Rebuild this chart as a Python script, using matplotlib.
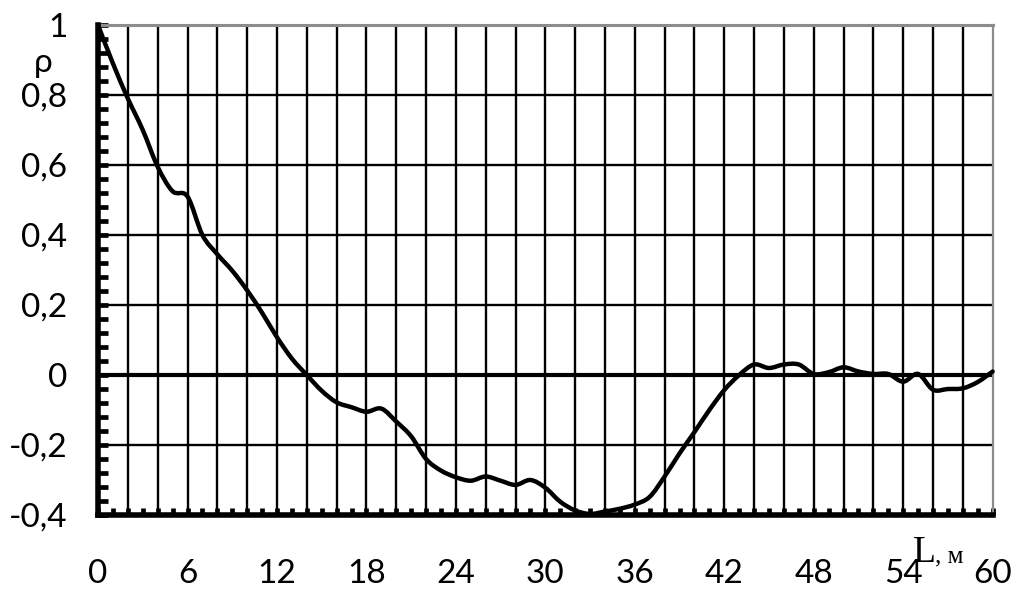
import numpy as np
import matplotlib
matplotlib.use("Agg")
import matplotlib.pyplot as plt
from matplotlib.ticker import MultipleLocator, FuncFormatter
from matplotlib.path import Path
from matplotlib.patches import PathPatch

# lag L, m and autocorrelation rho
lag = [0, 1, 2, 3, 4, 5, 6, 7, 8, 9, 10, 11, 12, 13, 14, 15, 16, 17, 18, 19,
       20, 21, 22, 23, 24, 25, 26, 27, 28, 29, 30, 31, 32, 33, 34, 35, 36, 37,
       38, 39, 40, 41, 42, 43, 44, 45, 46, 47, 48, 49, 50, 51, 52, 53, 54, 55,
       56, 57, 58, 59, 60]
rho = [1.0, 0.89, 0.79, 0.70, 0.595, 0.525, 0.51, 0.40, 0.345, 0.298, 0.242,
       0.178, 0.108, 0.047, 0.0, -0.045, -0.078, -0.092, -0.105, -0.096,
       -0.133, -0.175, -0.24, -0.273, -0.292, -0.302, -0.29, -0.302, -0.314,
       -0.30, -0.322, -0.362, -0.387, -0.397, -0.39, -0.382, -0.37, -0.348,
       -0.29, -0.224, -0.163, -0.10, -0.043, 0.0, 0.03, 0.02, 0.03, 0.03,
       0.003, 0.008, 0.022, 0.01, 0.003, 0.003, -0.019, 0.003, -0.042, -0.04,
       -0.038, -0.02, 0.01]

x_labels = [0, 6, 12, 18, 24, 30, 36, 42, 48, 54, 60]
y_labels = [-0.4, -0.2, 0, 0.2, 0.4, 0.6, 0.8, 1]

plt.rcParams['font.family'] = ['Lato', 'DejaVu Sans']

fig = plt.figure(figsize=(10.16, 5.9), dpi=100)
ax = fig.add_axes([0.0965, 0.1271, 0.8805, 0.8305])

ax.set_xlim(0, 60)
ax.set_ylim(-0.4, 1)

# grid
for xv in np.arange(2, 60, 2):
    ax.axvline(xv, color='black', lw=1.7, zorder=1)
for yv in y_labels[1:-1]:
    ax.axhline(yv, color='black', lw=3.0 if yv == 0 else 1.7, zorder=1)

# smoothed line like the spreadsheet one (bezier through the points)
px = np.array(lag, dtype=float)
py = np.array(rho, dtype=float)
verts = [(px[0], py[0])]
codes = [Path.MOVETO]
n = len(px)
for i in range(n - 1):
    i0 = max(i - 1, 0)
    i3 = min(i + 2, n - 1)
    c1 = (px[i] + (px[i + 1] - px[i0]) / 6, py[i] + (py[i + 1] - py[i0]) / 6)
    c2 = (px[i + 1] - (px[i3] - px[i]) / 6, py[i + 1] - (py[i3] - py[i]) / 6)
    verts += [c1, c2, (px[i + 1], py[i + 1])]
    codes += [Path.CURVE4] * 3
curve = PathPatch(Path(verts, codes), facecolor='none', edgecolor='black',
                  lw=3.2, joinstyle='round', capstyle='round', zorder=3,
                  clip_on=False)
ax.add_patch(curve)

for s in ['left', 'bottom']:
    ax.spines[s].set_linewidth(4)
    ax.spines[s].set_color('black')
    ax.spines[s].set_zorder(4)
ax.spines['top'].set_color('#8c8c8c')
ax.spines['top'].set_linewidth(2.2)
ax.spines['right'].set_color('#8c8c8c')
ax.spines['right'].set_linewidth(1.6)

ax.set_xticks(x_labels)
ax.xaxis.set_minor_locator(MultipleLocator(1))
ax.set_yticks(y_labels)
ax.yaxis.set_minor_locator(MultipleLocator(0.04))

fmt = FuncFormatter(lambda v, p: ('%g' % round(v, 2)).replace('.', ','))
ax.yaxis.set_major_formatter(fmt)

ax.tick_params(axis='x', which='both', direction='in', length=5, width=3.4,
               top=False, color='black')
ax.tick_params(axis='x', which='major', labelsize=24, pad=32)
ax.tick_params(axis='y', which='both', direction='in', length=7, width=3.4,
               right=False, color='black')
ax.tick_params(axis='y', which='major', labelsize=24, pad=22)

fig.text(43 / 1016, 1 - 63 / 590, 'ρ', fontsize=24, ha='center', va='center')
fig.text(913 / 1016, 1 - 562 / 590, 'L', fontsize=27,
         family='Liberation Serif', ha='left', va='baseline')
fig.text(935 / 1016, 1 - 562 / 590, ', м', fontsize=18,
         family='Liberation Serif', ha='left', va='baseline')

fig.savefig('out.png', dpi=100)
